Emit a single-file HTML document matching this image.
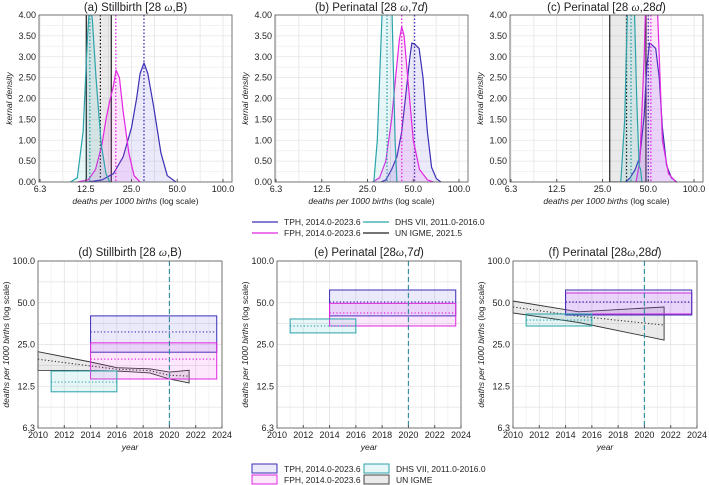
<!DOCTYPE html>
<html><head><meta charset="utf-8"><style>
body{margin:0;background:#fff;}
svg{display:block;font-family:"Liberation Sans",sans-serif;}
</style></head><body>
<svg id="fig" width="709" height="485" viewBox="0 0 709 485" xmlns="http://www.w3.org/2000/svg">
<defs></defs>
</svg>
<script>
// ---------- data: top density panels ----------
const densTicks = [6.25, 12.5, 25, 50, 100];
const densTickLabels = ["6.3", "12.5", "25.0", "50.0", "100.0"];
const densYTicks = [0, 0.5, 1, 1.5, 2, 2.5, 3, 3.5, 4];
// panel a
const tphA_x = [13, 16, 19, 22, 25, 27, 28.5, 30.2, 32, 35, 39, 43, 49];
const tphA_y = [0, 0.05, 0.2, 0.6, 1.3, 2.0, 2.6, 2.85, 2.6, 1.8, 0.7, 0.15, 0];
const fphA_x = [11, 13, 14.5, 16, 17, 18, 19, 19.8, 20.8, 22, 24, 26, 28.5];
const fphA_y = [0, 0.05, 0.3, 0.9, 1.5, 1.95, 2.3, 2.68, 2.5, 1.7, 0.7, 0.15, 0];
const dhsA_x = [9.9, 11, 12, 12.8, 13.3, 13.8, 14.6, 15.8, 17, 18];
const dhsA_y = [0, 0.1, 1.2, 3.4, 4.3, 3.9, 2.5, 0.9, 0.2, 0];
const igmeA = [12.6, 15.6, 18.4];
const meansA = [30.2, 19.7, 13.3];
// panel b
const tphB_x = [30.7, 33, 36, 39, 42, 45, 47.5, 49, 51, 54.6, 58, 62, 66, 71, 76];
const tphB_y = [0, 0.05, 0.3, 0.6, 1.2, 2.2, 3.0, 3.33, 3.3, 3.2, 2.5, 1.2, 0.35, 0.08, 0];
const fphB_x = [27, 30, 33, 36, 38.5, 40.5, 42, 43.5, 46, 50, 55, 62, 68];
const fphB_y = [0, 0.1, 0.5, 1.5, 2.6, 3.4, 3.72, 3.5, 2.5, 1.0, 0.3, 0.05, 0];
const dhsB_x = [27.5, 29, 31.5, 32.5, 33.6, 34.8, 36, 38, 39];
const dhsB_y = [0, 1, 4.5, 6, 6, 6, 4.5, 1, 0];
const igmeB = [];
const meansB = [51, 42, 33.6];
// panel c
const tphC_x = [35.5, 38, 41, 44, 47, 49, 51, 53, 56, 59, 62, 66, 71, 77];
const tphC_y = [0, 0.1, 0.3, 0.6, 1.6, 2.8, 3.33, 3.28, 3.2, 2.5, 1.3, 0.4, 0.1, 0];
const fphC_x = [41.5, 44, 47, 49.5, 52, 54.5, 57, 62, 68, 76];
const fphC_y = [0, 0.5, 3, 6, 6.5, 6, 4.5, 1, 0.2, 0];
const dhsC_x = [33, 35, 37, 38.5, 40, 42, 43.5, 44.5, 45.4];
const dhsC_y = [0, 1.5, 5, 6, 5, 2, 0.4, 0.3, 0];
const igmeC = [27.9, 36, 48.3];
const meansC = [50, 52, 38.5];

// ---------- data: bottom time panels ----------
const yearTicks = [2010, 2012, 2014, 2016, 2018, 2020, 2022, 2024];
const rateTicks = [100, 50, 25, 12.5, 6.25];
const rateTickLabels = ["100.0", "50.0", "25.0", "12.5", "6.3"];
const boxYears = { tph: [2014, 2023.6], fph: [2014, 2023.6], dhs: [2011, 2016] };
// [low, mean, high]
const tphD = [22, 30.8, 40.2], fphD = [14.1, 19.6, 25.7], dhsD = [11.4, 13.4, 16.1];
const tphE = [40.2, 50.6, 61.8], fphE = [34, 42.2, 49.5], dhsE = [30.3, 34, 38.2];
const tphF = [40.8, 50.6, 61.8], fphF = [41.5, 50.6, 58.8], dhsF = [34, 37.5, 41.5];
const igmeYears_D = [2010, 2014, 2016, 2018.5, 2020, 2021.5];
const igmeHi_D = [22.2, 18.7, 17.0, 16.7, 15.8, 16.3];
const igmeLo_D = [16.3, 16.2, 16.1, 15.6, 14.1, 13.2];
const igmeMid_D = [19.6, 17.5, 16.6, 16.2, 15.0, 14.8];
const igmeYears_F = [2010, 2015, 2021.5];
const igmeHi_F = [51.5, 43, 46.6];
const igmeLo_F = [42.2, 36, 26.9];
const igmeMid_F = [46.6, 40, 34.5];
const refYear = [2020];

const C = { tph: "#3a2fb5", fph: "#e026e0", dhs: "#2ba3aa", igme: "#222" };
const FILL = { tph: "rgba(90,80,220,0.12)", fph: "rgba(240,60,240,0.12)", dhs: "rgba(60,190,200,0.12)", igme: "rgba(150,150,150,0.2)" };

const svg = document.getElementById('fig');
const NS = "http://www.w3.org/2000/svg";
function mk(tag, attrs, parent) {
  const e = document.createElementNS(NS, tag);
  for (const k in attrs) e.setAttribute(k, attrs[k]);
  (parent || svg).appendChild(e);
  return e;
}
function txt(x, y, s, attrs, parent) {
  const t = mk('text', Object.assign({ x: x, y: y, 'font-size': 9, fill: '#222' }, attrs), parent);
  t.textContent = s;
  return t;
}

// ---------- top density panel ----------
function densPanel(id, L, title, titleParts, curves, igme, means) {
  const T = 15, B = 182, W = 193, R = L + W;
  const g = mk('g', {});
  
  
  const oct = (W - 10) / 4;
  const xs = v => L + 1 + oct * Math.log2(v / 6.25);
  const ys = v => B - (B - T) * v / 4;
  mk('rect', { x: L, y: T, width: W, height: B - T, fill: '#fff' }, g);
  // grid
  for (let i = 0; i <= 8; i++) {
    const v = 6.25 * Math.pow(2, i / 2);
    mk('line', { x1: xs(v), x2: xs(v), y1: T, y2: B, stroke: '#e4e4e4', 'stroke-width': 0.8 }, g);
  }
  for (let i = 0; i <= 16; i++) {
    const y = ys(i * 0.25);
    mk('line', { x1: L, x2: R, y1: y, y2: y, stroke: i % 2 ? '#f0f0f0' : '#e4e4e4', 'stroke-width': 0.8 }, g);
  }
  const cid = 'clip' + id;
  const cp = mk('clipPath', { id: cid }, svg.querySelector('defs'));
  mk('rect', { x: L, y: T, width: W, height: B - T }, cp);
  const pg = mk('g', { 'clip-path': 'url(#' + cid + ')' }, g);
  if (igme.length) {
    const r = mk('rect', { x: xs(igme[0]), y: T - 2, width: xs(igme[2]) - xs(igme[0]), height: B - T + 2, fill: FILL.igme, stroke: '#111', 'stroke-width': 1.1 }, pg);
    
    
    mk('line', { x1: xs(igme[1]), x2: xs(igme[1]), y1: T, y2: B, stroke: '#111', 'stroke-width': 1.2, 'stroke-dasharray': '1.5,2' }, pg);
  }
  const keys = ['tph', 'fph', 'dhs'];
  curves.forEach((c, k) => {
    const key = keys[k];
    let d = '';
    c[0].forEach((xv, i) => { d += (i ? 'L' : 'M') + xs(xv).toFixed(1) + ',' + ys(c[1][i]).toFixed(1); });
    const f = mk('path', { d: d + 'Z', fill: FILL[key], stroke: 'none' }, pg);
    const p = mk('path', { d: d, fill: 'none', stroke: C[key], 'stroke-width': 1.2, 'stroke-linejoin': 'round' }, pg);
    
    
    mk('line', { x1: xs(means[k]), x2: xs(means[k]), y1: T, y2: B, stroke: C[key], 'stroke-width': 1.3, 'stroke-dasharray': '1.5,2' }, pg);
  });
  mk('rect', { x: L, y: T, width: W, height: B - T, fill: 'none', stroke: '#555', 'stroke-width': 0.8 }, g);
  densTicks.forEach((v, i) => {
    mk('line', { x1: xs(v), x2: xs(v), y1: B, y2: B - 3, stroke: '#555' }, g);
    txt(xs(v), B + 10, densTickLabels[i], { 'text-anchor': 'middle' }, g);
  });
  densYTicks.forEach(v => {
    txt(L - 3, ys(v) + 3, v.toFixed(2), { 'text-anchor': 'end' }, g);
  });
  const xt = txt(L + W / 2, 204, '', { 'text-anchor': 'middle', 'font-size': 8.5 }, g);
  xt.innerHTML = '<tspan font-style="italic">deaths per 1000 births</tspan> (log scale)';
  
  
  const yt = txt(0, 0, 'kernal density', { 'text-anchor': 'middle', 'font-size': 8.5, 'font-style': 'italic', transform: 'translate(' + (L - 27) + ',' + ((T + B) / 2) + ') rotate(-90)' }, g);
  
  
  const tt = txt(L + W / 2, 11, '', { 'text-anchor': 'middle', 'font-size': 11.5 }, g);
  tt.innerHTML = titleParts;
  
  
}

densPanel('a', 39, '', '(a) Stillbirth [28 <tspan font-family="Liberation Serif" font-style="italic">ω</tspan>,B)', [[tphA_x, tphA_y], [fphA_x, fphA_y], [dhsA_x, dhsA_y]], igmeA, meansA);
densPanel('b', 275, '', '(b) Perinatal [28 <tspan font-family="Liberation Serif" font-style="italic">ω</tspan>,7<tspan font-style="italic">d</tspan>)', [[tphB_x, tphB_y], [fphB_x, fphB_y], [dhsB_x, dhsB_y]], igmeB, meansB);
densPanel('c', 510, '', '(c) Perinatal [28 <tspan font-family="Liberation Serif" font-style="italic">ω</tspan>,28<tspan font-style="italic">d</tspan>)', [[tphC_x, tphC_y], [fphC_x, fphC_y], [dhsC_x, dhsC_y]], igmeC, meansC);

// ---------- bottom time panel ----------
function timePanel(id, L, titleParts, boxes, igme) {
  const T = 261, B = 428, W = 184, R = L + W;
  const g = mk('g', {});
  
  
  const xs = y => L + W * (y - 2010) / 14;
  const ys = v => T + (B - T) * Math.log2(100 / v) / 4;
  for (let y = 2010; y <= 2024; y++) mk('line', { x1: xs(y), x2: xs(y), y1: T, y2: B, stroke: y % 2 ? '#f0f0f0' : '#e2e2e2', 'stroke-width': 0.8 }, g);
  for (let i = 0; i <= 8; i++) {
    const y = ys(100 / Math.pow(2, i / 2));
    mk('line', { x1: L, x2: R, y1: y, y2: y, stroke: '#e2e2e2', 'stroke-width': 0.8 }, g);
  }
  if (igme) {
    const [yrs, hi, lo, mid] = igme;
    let d = '';
    yrs.forEach((yv, i) => { d += (i ? 'L' : 'M') + xs(yv).toFixed(1) + ',' + ys(hi[i]).toFixed(1); });
    for (let i = yrs.length - 1; i >= 0; i--) d += 'L' + xs(yrs[i]).toFixed(1) + ',' + ys(lo[i]).toFixed(1);
    const p = mk('path', { d: d + 'Z', fill: 'rgba(160,160,160,0.22)', stroke: '#333', 'stroke-width': 0.9 }, g);
    
    
    let m = '';
    yrs.forEach((yv, i) => { m += (i ? 'L' : 'M') + xs(yv).toFixed(1) + ',' + ys(mid[i]).toFixed(1); });
    mk('path', { d: m, fill: 'none', stroke: '#333', 'stroke-width': 1.1, 'stroke-dasharray': '1.2,2.2' }, g);
  }
  boxes.forEach(bx => {
    const [key, v] = bx;
    const yr = boxYears[key];
    const r = mk('rect', { x: xs(yr[0]), y: ys(v[2]), width: xs(yr[1]) - xs(yr[0]), height: ys(v[0]) - ys(v[2]), fill: FILL[key], stroke: C[key], 'stroke-width': 1 }, g);
    
    
    mk('line', { x1: xs(yr[0]), x2: xs(yr[1]), y1: ys(v[1]), y2: ys(v[1]), stroke: C[key], 'stroke-width': 1.2, 'stroke-dasharray': '1.2,2.2' }, g);
  });
  const rl = mk('line', { x1: xs(refYear[0]), x2: xs(refYear[0]), y1: T, y2: B, stroke: '#3a8fa8', 'stroke-width': 1.2, 'stroke-dasharray': '5,3' }, g);
  
  
  mk('rect', { x: L, y: T, width: W, height: B - T, fill: 'none', stroke: '#555', 'stroke-width': 0.8 }, g);
  yearTicks.forEach(y => {
    mk('line', { x1: xs(y), x2: xs(y), y1: B, y2: B - 3, stroke: '#555' }, g);
    txt(xs(y), B + 10, String(y), { 'text-anchor': 'middle' }, g);
  });
  rateTicks.forEach((v, i) => txt(L - 3, ys(v) + 3, rateTickLabels[i], { 'text-anchor': 'end' }, g));
  const xt = txt(L + W / 2, 450, 'year', { 'text-anchor': 'middle', 'font-size': 8.5, 'font-style': 'italic' }, g);
  
  
  const yt = txt(0, 0, '', { 'text-anchor': 'middle', 'font-size': 8.5, transform: 'translate(' + (L - 29) + ',' + ((T + B) / 2) + ') rotate(-90)' }, g);
  yt.innerHTML = '<tspan font-style="italic">deaths per 1000 births</tspan> (log scale)';
  
  
  const tt = txt(L + W / 2, 256, '', { 'text-anchor': 'middle', 'font-size': 11.5 }, g);
  tt.innerHTML = titleParts;
  
  
}
timePanel('d', 38, '(d) Stillbirth [28 <tspan font-family="Liberation Serif" font-style="italic">ω</tspan>,B)', [['tph', tphD], ['fph', fphD], ['dhs', dhsD]], [igmeYears_D, igmeHi_D, igmeLo_D, igmeMid_D]);
timePanel('e', 277, '(e) Perinatal [28<tspan font-family="Liberation Serif" font-style="italic">ω</tspan>,7<tspan font-style="italic">d</tspan>)', [['tph', tphE], ['fph', fphE], ['dhs', dhsE]], null);
timePanel('f', 513, '(f) Perinatal [28<tspan font-family="Liberation Serif" font-style="italic">ω</tspan>,28<tspan font-style="italic">d</tspan>)', [['fph', fphF], ['tph', tphF], ['dhs', dhsF]], [igmeYears_F, igmeHi_F, igmeLo_F, igmeMid_F]);

// ---------- legends ----------
const legendLabels = ["TPH, 2014.0-2023.6", "FPH, 2014.0-2023.6", "DHS VII, 2011.0-2016.0", "UN IGME, 2021.5"];
const legendKeys = ['tph', 'fph', 'dhs', 'igme'];
const lgTop = mk('g', {});


legendKeys.forEach((k, i) => {
  const x = i < 2 ? 252 : 363, y = 222 + (i % 2) * 11;
  mk('line', { x1: x, x2: x + 26, y1: y, y2: y, stroke: C[k], 'stroke-width': 1.3 }, lgTop);
  const t = txt(x + 32, y + 3, legendLabels[i], { 'font-size': 8.5 }, lgTop);
  
  
});
const legendLabels2 = ["TPH, 2014.0-2023.6", "FPH, 2014.0-2023.6", "DHS VII, 2011.0-2016.0", "UN IGME"];
const lgBot = mk('g', {});


legendKeys.forEach((k, i) => {
  const x = i < 2 ? 252 : 364, y = 464 + (i % 2) * 11;
  mk('rect', { x: x, y: y, width: 25, height: 9, fill: FILL[k], stroke: k === 'igme' ? '#444' : C[k], 'stroke-width': 1 }, lgBot);
  const t = txt(x + 32, y + 8, legendLabels2[i], { 'font-size': 8.5 }, lgBot);
  
  
});
</script>
</body></html>
